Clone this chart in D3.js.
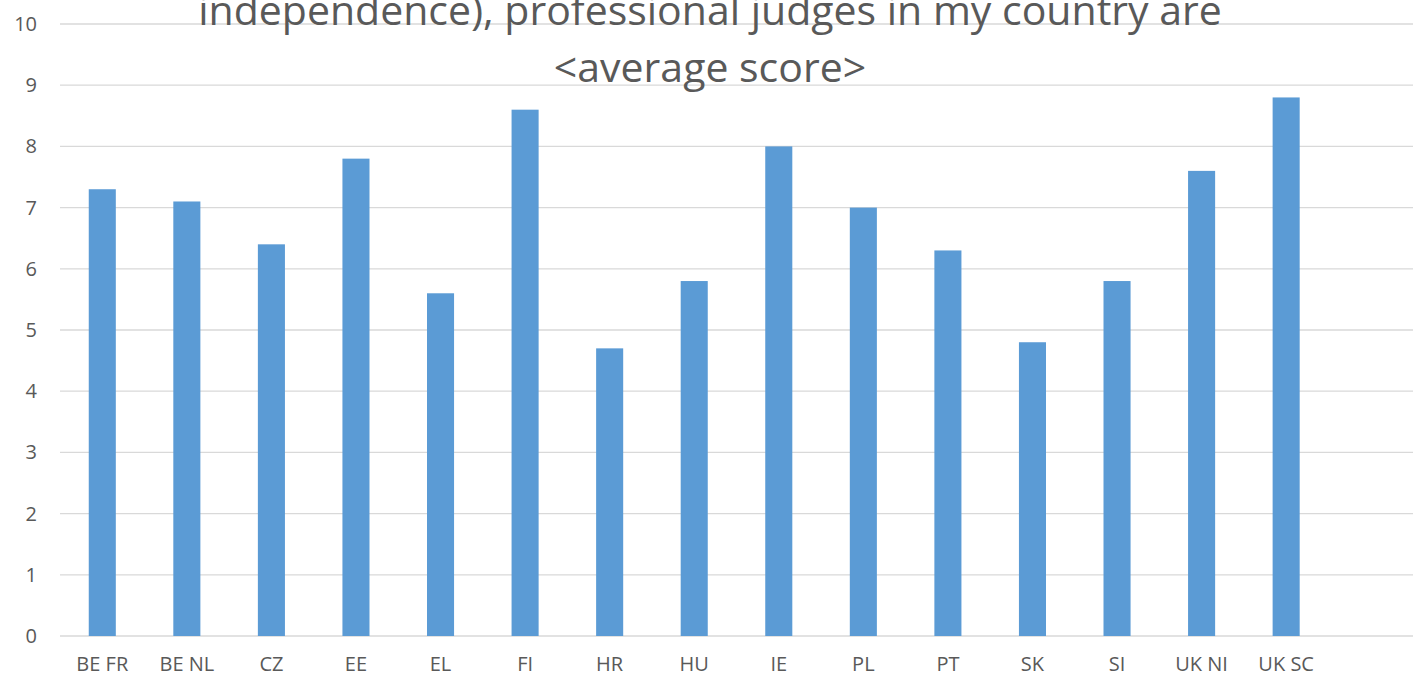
<!DOCTYPE html>
<html>
<head>
<meta charset="utf-8">
<script src="https://cdn.jsdelivr.net/npm/d3@7"></script>
<style>
html,body{margin:0;padding:0;background:#fff;overflow:hidden;}
svg{display:block;}
</style>
</head>
<body>
<svg id="chart" width="1426" height="677"></svg>
<script>
const categories = ["BE FR","BE NL","CZ","EE","EL","FI","HR","HU","IE","PL","PT","SK","SI","UK NI","UK SC",""];
const values = [7.3,7.1,6.4,7.8,5.6,8.6,4.7,5.8,8.0,7.0,6.3,4.8,5.8,7.6,8.8,null];
const yTicks = [0,1,2,3,4,5,6,7,8,9,10];
const titleLines = ["independence), professional judges in my country are","<average score>"];

const svg = d3.select("#chart");
const margin = {left:60, right:13, top:24, bottom:41};
const W = 1426, H = 677;
const x = d3.scaleBand().domain(categories).range([margin.left, W - margin.right]).paddingInner(0.68).paddingOuter(0.34);
const y = d3.scaleLinear().domain([0,10]).range([H - margin.bottom, margin.top]);

// gridlines
svg.append("g").selectAll("line").data(yTicks).join("line")
  .attr("x1", margin.left).attr("x2", W - margin.right)
  .attr("y1", d => y(d)).attr("y2", d => y(d))
  .attr("stroke", "#d9d9d9").attr("stroke-width", 1.3);

// y axis labels
const yAxis = d3.axisLeft(y).tickValues(yTicks).tickSize(0).tickPadding(0);
const yg = svg.append("g").attr("transform", `translate(${margin.left - 23},0)`).call(yAxis);
yg.select(".domain").remove();
yg.selectAll("text").attr("font-family","'Open Sans', sans-serif").attr("font-size","20px").attr("fill","#595959");

// bars
svg.append("g").selectAll("rect").data(categories.map((c,i)=>({c, v: values[i]})).filter(d => d.v != null)).join("rect")
  .attr("x", d => x(d.c)).attr("width", x.bandwidth())
  .attr("y", d => y(d.v)).attr("height", d => y(0) - y(d.v))
  .attr("fill", "#5B9BD5");

// x axis labels
const xAxis = d3.axisBottom(x).tickSize(0).tickPadding(0);
const xg = svg.append("g").attr("transform", `translate(0,${y(0) + 21})`).call(xAxis);
xg.select(".domain").remove();
xg.selectAll("text").attr("font-family","'Open Sans', sans-serif").attr("font-size","20px").attr("fill","#595959");

// title
svg.append("g").selectAll("text").data(titleLines).join("text")
  .attr("x", 710).attr("y", (d,i) => 25 + i*57)
  .attr("text-anchor","middle")
  .attr("font-family","'Open Sans', sans-serif").attr("font-size","41px").attr("fill","#595959")
  .text(d => d);
</script>
</body>
</html>
